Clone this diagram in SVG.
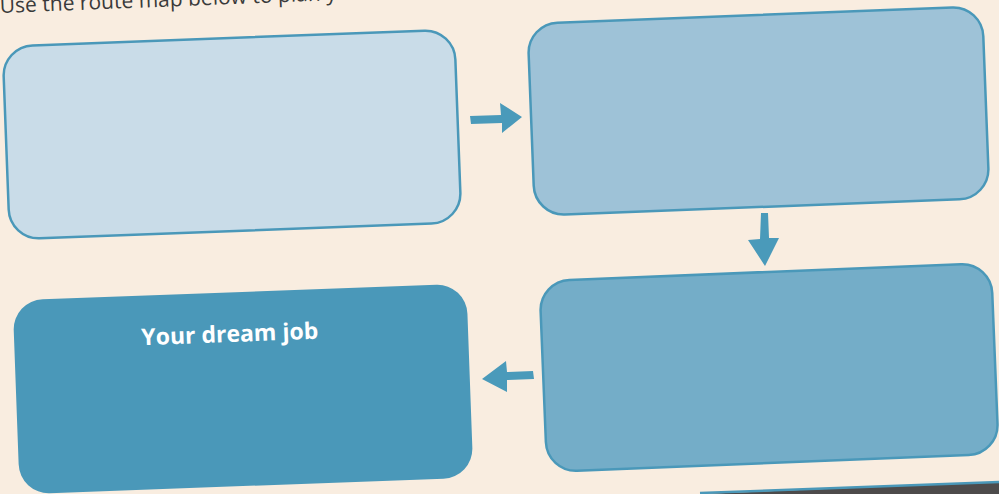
<svg xmlns="http://www.w3.org/2000/svg" width="999" height="494" viewBox="0 0 999 494">
<style>
.box{stroke:#4a98b9;stroke-width:2.5}
.arr{fill:#4a9aba}
</style>
<rect x="0" y="0" width="999" height="494" fill="#f9ede0"/>
<polygon points="700,494 999,482 999,494" fill="#4d4b4b"/>
<line x1="700" y1="493" x2="999" y2="482" stroke="#4a98b9" stroke-width="2.5"/>
<text x="0" y="13" transform="rotate(-2.2 0 13)" font-family="'Open Sans', 'Noto Sans', sans-serif" font-size="21" fill="#3a3a3a">Use the route map below to plan y</text>
<g id="box1"><rect class="box" x="6" y="38" width="452" height="193" rx="30" fill="#c9dce8" transform="rotate(-2.15 232 134)"/></g>
<g id="box2"><rect class="box" x="531" y="15" width="455" height="192" rx="30" fill="#9ec2d7" transform="rotate(-2.2 758 111)"/></g>
<g id="box3"><rect class="box" x="543" y="272" width="452" height="191" rx="30" fill="#74adc8" transform="rotate(-2.3 769 366)"/></g>
<g id="box4"><rect x="16" y="292" width="454" height="194" rx="30" fill="#4a98b9" transform="rotate(-2.1 243 388)"/>
<text x="230" y="342" text-anchor="middle" transform="rotate(-2.1 230 342)" font-family="'Open Sans', 'Noto Sans', sans-serif" font-weight="bold" font-size="23" fill="#ffffff">Your dream job</text></g>
<g id="connectors">
<polygon class="arr" points="470,116 501,115 500,103 522,117 502,133 502,123 471,124"/>
<polygon class="arr" points="761,213 768,213 769,238 779,238 765,266 748,240 760,239"/>
<polygon class="arr" points="533,371 507,372 506,361 482,379 507,392 507,380 534,379"/>
</g>
</svg>
